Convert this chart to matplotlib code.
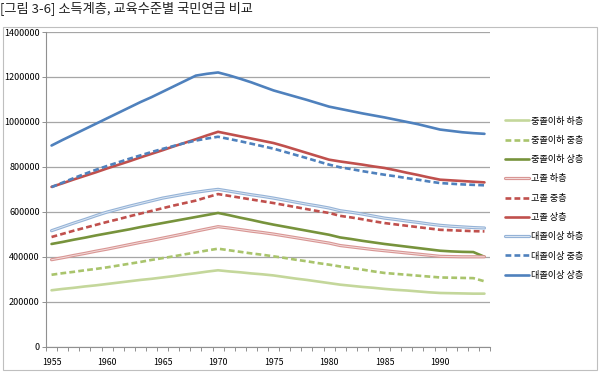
import numpy as np
import matplotlib.pyplot as plt
import matplotlib.patheffects as pe
from matplotlib.patches import Rectangle
from matplotlib.ticker import FixedLocator

plt.rcParams['font.family'] = ['Noto Sans CJK KR', 'DejaVu Sans']

years = np.arange(1955, 1995)

# values in thousand won
mid_low = [251, 257, 262, 268, 273, 279, 285, 291, 297, 302, 308, 314, 321, 327, 334, 340,
           335, 331, 326, 322, 317, 310, 303, 297, 290, 283, 276, 271, 266, 262, 257,
           253, 250, 246, 242, 239, 238, 237, 236, 236]
mid_mid = [320, 327, 333, 340, 346, 353, 361, 369, 377, 386, 394, 402, 411, 419, 428, 436,
           429, 422, 415, 409, 402, 395, 387, 380, 372, 365, 357, 350, 343, 335, 328,
           324, 320, 316, 312, 308, 307, 306, 305, 291]
mid_high = [457, 466, 476, 485, 495, 504, 513, 522, 532, 541, 550, 559, 568, 577, 586, 595,
            585, 574, 564, 553, 543, 534, 525, 516, 507, 498, 486, 479, 471, 464, 457,
            451, 445, 439, 433, 427, 424, 422, 421, 400]
hs_low = [387, 396, 406, 415, 425, 434, 444, 454, 464, 473, 483, 493, 503, 514, 524, 534,
          528, 521, 514, 508, 501, 493, 485, 477, 469, 461, 450, 444, 438, 432, 427,
          422, 417, 412, 407, 402, 401, 400, 400, 400]
hs_mid = [488, 502, 516, 529, 542, 555, 567, 580, 592, 604, 616, 628, 639, 650, 665, 679,
          671, 663, 655, 647, 639, 630, 621, 612, 603, 595, 582, 575, 567, 558, 550,
          544, 538, 532, 526, 520, 518, 516, 514, 513]
hs_high = [711, 727, 744, 760, 776, 793, 809, 825, 842, 858, 874, 891, 907, 923, 940, 956,
           946, 936, 926, 916, 906, 892, 877, 862, 847, 832, 824, 817, 810, 802, 795,
           785, 774, 764, 753, 743, 740, 737, 734, 731]
univ_low = [516, 533, 550, 566, 583, 599, 612, 625, 637, 649, 661, 670, 679, 687, 694, 700,
            692, 684, 676, 669, 661, 652, 643, 634, 626, 617, 605, 598, 590, 581, 572,
            566, 559, 553, 546, 540, 536, 533, 530, 528]
univ_mid = [710, 730, 750, 769, 787, 804, 820, 836, 851, 866, 880, 893, 906, 917, 926, 934,
            924, 914, 903, 892, 881, 867, 853, 839, 824, 810, 798, 790, 781, 773, 765,
            758, 750, 743, 735, 728, 725, 722, 720, 718]
univ_high = [895, 920, 944, 968, 992, 1016, 1040, 1064, 1088, 1110, 1134, 1158, 1182, 1206, 1214, 1220,
             1207, 1192, 1176, 1158, 1140, 1126, 1112, 1098, 1083, 1068, 1058, 1048, 1038, 1029, 1020,
             1010, 1000, 990, 978, 966, 960, 954, 950, 947]

labels = ['중졸이하 하층', '중졸이하 중층', '중졸이하 상층',
          '고졸 하층', '고졸 중층', '고졸 상층',
          '대졸이상 하층', '대졸이상 중층', '대졸이상 상층']
series = [mid_low, mid_mid, mid_high, hs_low, hs_mid, hs_high, univ_low, univ_mid, univ_high]
colors = ['#c4d79b', '#a9c46c', '#77933c', '#d99694', '#c0504d', '#c0504d',
          '#95b3d7', '#4f81bd', '#4f81bd']
dashed = [False, True, False, False, True, False, False, True, False]
double = [False, False, False, True, False, False, True, False, False]
inner = {3: '#f2dcdb', 6: '#dce6f2'}

fig = plt.figure(figsize=(6.01, 3.75), dpi=100)
ax = fig.add_axes([46 / 601, 1 - 346.7 / 375, 444 / 601, 314.7 / 375])

for i, (vals, lab) in enumerate(zip(series, labels)):
    y = np.array(vals) * 1000
    kw = dict(color=colors[i], lw=1.9, label=lab, solid_capstyle='round')
    if dashed[i]:
        kw['dashes'] = (2.2, 1.2)
    if double[i]:
        kw['lw'] = 2.3
        kw['path_effects'] = [pe.Stroke(linewidth=2.3, foreground=colors[i]),
                              pe.Stroke(linewidth=0.7, foreground=inner[i])]
    ax.plot(years, y, **kw)

ax.set_xlim(1954.5, 1994.5)
ax.set_ylim(0, 1400000)
ax.set_yticks(np.arange(0, 1400001, 200000))
ax.set_yticklabels([str(v) for v in range(0, 1400001, 200000)])
ax.set_xticks(np.arange(1955, 1995, 5))
ax.xaxis.set_minor_locator(FixedLocator(np.arange(1954.5, 1995, 1)))
ax.tick_params(axis='x', which='major', length=0, pad=8, labelsize=6.3)
ax.tick_params(axis='x', which='minor', length=3, width=0.7, color='#909090', direction='out')
ax.tick_params(axis='y', length=3, width=0.7, color='#909090', pad=1.5, labelsize=6.5)

ax.grid(axis='y', color='#a6a6a6', lw=0.9)
ax.set_axisbelow(True)
for side in ['top', 'right']:
    ax.spines[side].set_visible(False)
for side in ['left', 'bottom']:
    ax.spines[side].set_color('#909090')
    ax.spines[side].set_linewidth(0.8)

leg = fig.legend(loc='upper left', bbox_to_anchor=(501 / 601, 1 - 113 / 375),
                 frameon=False, fontsize=6.6, handlelength=2.6, handletextpad=0.3,
                 labelspacing=1.12, borderaxespad=0)

fig.text(0.0, 1 - 12 / 375, '[그림 3-6] 소득계층, 교육수준별 국민연금 비교',
         fontsize=9.5, va='baseline', ha='left', color='#222222')

fig.patches.append(Rectangle((3 / 601, 1 - 370 / 375), 594 / 601, 343 / 375,
                             transform=fig.transFigure, fill=False,
                             edgecolor='#bfbfbf', lw=0.8))

fig.savefig('out.png', dpi=100)
